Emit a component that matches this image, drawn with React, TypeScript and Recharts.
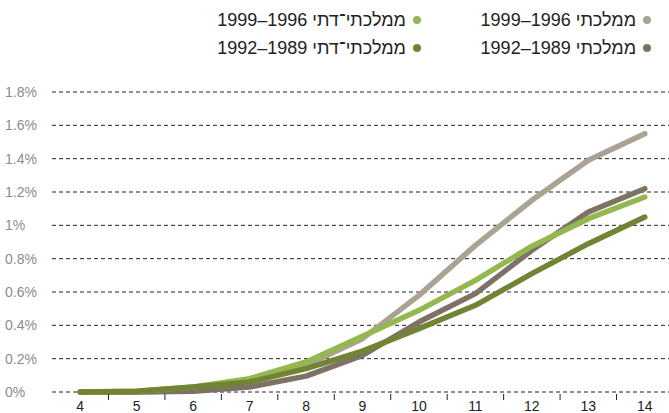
import { LineChart, Line, XAxis, YAxis, CartesianGrid } from "recharts";

const ages = [4, 5, 6, 7, 8, 9, 10, 11, 12, 13, 14];
const tickMarks = [4.5, 5.5, 6.5, 7.5, 8.5, 9.5, 10.5, 11.5, 12.5, 13.5];
const yTicks = [0, 0.2, 0.4, 0.6, 0.8, 1, 1.2, 1.4, 1.6, 1.8];

// percent of cohort, by age
const mamlachti9699 = [0, 0, 0.01, 0.06, 0.16, 0.32, 0.58, 0.88, 1.15, 1.39, 1.55];
const mamlachti8992 = [0, 0, 0.005, 0.03, 0.095, 0.22, 0.42, 0.59, 0.85, 1.08, 1.22];
const datiy9699 = [0, 0.005, 0.03, 0.08, 0.18, 0.335, 0.49, 0.67, 0.875, 1.04, 1.17];
const datiy8992 = [0, 0.005, 0.03, 0.06, 0.14, 0.245, 0.38, 0.52, 0.71, 0.89, 1.05];

const series = [
  { key: "m9699", name: "ממלכתי 1996–1999", color: "#aaa394", values: mamlachti9699 },
  { key: "m8992", name: "ממלכתי 1989–1992", color: "#7d7264", values: mamlachti8992 },
  { key: "d9699", name: "ממלכתי־דתי 1996–1999", color: "#94b84f", values: datiy9699 },
  { key: "d8992", name: "ממלכתי־דתי 1989–1992", color: "#708434", values: datiy8992 },
];

const data = ages.map((age, i) => {
  const row: Record<string, number> = { age };
  series.forEach((s) => (row[s.key] = s.values[i]));
  return row;
});

const font = "'Liberation Sans', 'DejaVu Sans', sans-serif";

const AgeTick = ({ x, y, payload }: any) => {
  if (!Number.isInteger(payload.value)) {
    return <line x1={x} x2={x} y1={y - 6} y2={y} stroke="#222" strokeWidth={1} />;
  }
  return (
    <text
      x={x}
      y={y + 11}
      textAnchor="middle"
      fill="#222"
      fontSize={14}
      fontFamily="'Liberation Sans Narrow', 'Liberation Sans', sans-serif"
    >
      {payload.value}
    </text>
  );
};

const PctTick = ({ y, payload }: any) => (
  <text x={5} y={y + 5} fill="#8c8c8c" fontSize={14} fontFamily={font}>
    {`${+payload.value.toFixed(1)}%`}
  </text>
);

// legend: right column = ממלכתי, left column = ממלכתי־דתי
const legendPos = [
  { right: 18, top: 9 },
  { right: 18, top: 37 },
  { right: 248, top: 9 },
  { right: 248, top: 37 },
];

export default function App() {
  return (
    <div
      style={{
        position: "absolute",
        left: 0,
        top: 0,
        width: 669,
        height: 413,
        overflow: "hidden",
        background: "#fff",
      }}
    >
      {series.map((s, i) => (
        <div
          key={s.key}
          style={{
            position: "absolute",
            right: legendPos[i].right,
            top: legendPos[i].top,
            display: "flex",
            direction: "rtl",
            alignItems: "center",
            gap: 7,
            fontFamily: font,
            fontSize: 18,
            lineHeight: "22px",
            color: "#222",
            whiteSpace: "nowrap",
          }}
        >
          <span
            style={{
              width: 8,
              height: 8,
              borderRadius: "50%",
              background: s.color,
              display: "inline-block",
            }}
          />
          <span>{s.name}</span>
        </div>
      ))}
      <LineChart
        width={673}
        height={413}
        data={data}
        margin={{ top: 92, right: 0, bottom: 0, left: 0 }}
      >
        <CartesianGrid vertical={false} stroke="#222" strokeDasharray="4 3" />
        <XAxis
          type="number"
          dataKey="age"
          domain={[3.5, 14.5]}
          ticks={[...ages, ...tickMarks]}
          interval={0}
          axisLine={false}
          tickLine={false}
          tick={<AgeTick />}
          height={21}
        />
        <YAxis
          domain={[0, 1.8]}
          ticks={yTicks}
          interval={0}
          axisLine={false}
          tickLine={false}
          tick={<PctTick />}
          width={52}
        />
        {series.map((s) => (
          <Line
            key={s.key}
            type="linear"
            dataKey={s.key}
            name={s.name}
            stroke={s.color}
            strokeWidth={5.5}
            strokeLinecap="round"
            strokeLinejoin="round"
            dot={false}
            activeDot={false}
            isAnimationActive={false}
          />
        ))}
      </LineChart>
    </div>
  );
}
